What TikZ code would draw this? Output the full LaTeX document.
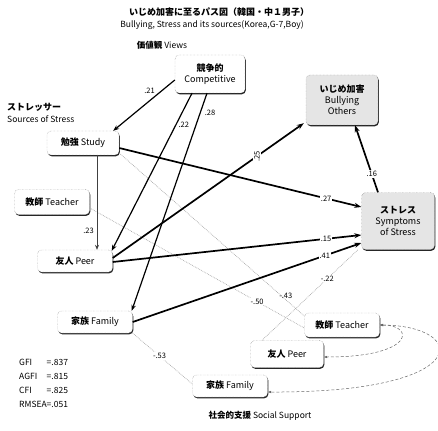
\documentclass[tikz,border=0pt]{standalone}
\usepackage{fontspec}
\setmainfont{Noto Sans CJK JP}
\usetikzlibrary{shadows,arrows.meta}
\begin{document}
\begin{tikzpicture}[x=1pt,y=-1pt,
  box/.style={draw=black!50, densely dotted, rounded corners=4pt, fill=white, align=center,
    inner sep=1pt, font=\fontsize{9}{11}\selectfont, minimum width=74pt, minimum height=23pt,
    drop shadow={shadow xshift=0.8pt, shadow yshift=-1.3pt, fill=black!85, opacity=1}},
  gbox/.style={box, fill=black!10},
  lab/.style={font=\fontsize{7.5}{8}\selectfont, inner sep=1pt},
  txt/.style={font=\fontsize{8.5}{10}\selectfont, inner sep=0pt},
  heavy/.style={line width=1.7pt, -{Stealth[length=7pt,width=5pt]}},
  mid/.style={line width=1.2pt, -{Stealth[length=6pt,width=4.5pt]}},
  slim/.style={line width=0.6pt, draw=black!75, -{Stealth[length=5pt,width=4pt]}},
  corr/.style={draw=black!35, densely dotted, line width=0.7pt},
  curv/.style={draw=black!60, densely dashed, line width=0.5pt, {Latex[length=3.5pt]}-{Latex[length=3.5pt]}}
]
\useasboundingbox (0,0) rectangle (438,430);

% titles and labels
\node[txt, font=\fontsize{9}{10}\bfseries] (t1) at (219,12) {いじめ加害に至るパス図（韓国・中１男子）};
\node[txt] (t2) at (212,25) {Bullying, Stress and its sources(Korea,G-7,Boy)};
\node[txt] (views) at (162,45) {\textbf{価値観} Views};
\node[txt, anchor=west, font=\fontsize{9}{10}\bfseries] (src1) at (7,107) {ストレッサー};
\node[txt, anchor=west] (src2) at (7,119) {Sources of Stress};
\node[txt, anchor=north west, font=\fontsize{8.5}{14}\selectfont] (fit) at (19,355)
  {\begin{tabular}{@{}l@{}l@{}}GFI\ \ &=.837\\AGFI\ &=.815\\CFI\ \ &=.825\\RMSEA&=.051\end{tabular}};
\node[txt] (ss) at (260,416) {\textbf{社会的支援} Social Support};

% boxes
\node[box, minimum width=70pt, minimum height=38pt] (comp) at (210,74) {\textbf{競争的}\\Competitive};
\node[gbox, minimum width=72pt, minimum height=50pt] (bully) at (342,100) {\textbf{いじめ加害}\\Bullying\\Others};
\node[box, minimum width=72pt, minimum height=24pt] (study) at (83,143) {\textbf{勉強} Study};
\node[box, minimum width=75pt, minimum height=25pt] (teacherL) at (52,202) {\textbf{教師} Teacher};
\node[box, minimum width=75pt, minimum height=22pt] (peerL) at (75,261) {\textbf{友人} Peer};
\node[box, minimum width=75pt, minimum height=22pt] (familyL) at (95,322) {\textbf{家族} Family};
\node[gbox, minimum width=73pt, minimum height=57pt] (stress) at (398,221) {\textbf{ストレス}\\Symptoms\\of Stress};
\node[box, minimum width=75pt, minimum height=24pt] (teacherR) at (342,325) {\textbf{教師} Teacher};
\node[box, minimum width=73pt, minimum height=27pt] (peerR) at (287,354) {\textbf{友人} Peer};
\node[box, minimum width=75pt, minimum height=22pt] (familyR) at (230,386) {\textbf{家族} Family};

% support paths (light dotted)
\draw[corr] ([yshift=-10pt]study.east) -- node[lab, pos=0.9, above]{-.43} ([yshift=9pt]teacherR.west);
\draw[corr] ([yshift=-6pt]teacherL.east) -- node[lab, pos=0.78, fill=white]{-.50} ([yshift=-3pt]teacherR.west);
\draw[corr] (familyL.south east) -- node[lab, pos=0.45, fill=white]{-.53} ([yshift=2pt]familyR.west);
\draw[corr] ([xshift=-25pt]peerR.north) -- node[lab, pos=0.68, fill=white]{-.22} ([xshift=-40pt]stress.south);

% paths from views
\draw[mid] ([yshift=-6pt]comp.west) -- node[lab, pos=0.3, above left=0pt]{.21} ([xshift=-6pt]study.north east);
\draw[mid] ([xshift=-18pt]comp.south) -- node[lab, pos=0.2, right=1pt]{.22} ([xshift=-1pt,yshift=-1pt]peerL.north east);
\draw[mid] ([xshift=-3pt]comp.south) -- node[lab, pos=0.09, right=3pt]{.28} ([xshift=-1pt]familyL.north east);
\draw[slim] ([xshift=14pt]study.south) -- node[lab, pos=0.8, left=2pt]{.23} ([xshift=22pt]peerL.north);

% paths to stress / bullying
\draw[heavy] ([yshift=-5pt]study.east) -- node[lab, fill=white, pos=0.855]{.27} ([yshift=14pt]stress.west);
\draw[heavy] ([yshift=-1pt]peerL.east) -- node[lab, fill=white, pos=0.858]{.15} ([yshift=-14pt]stress.west);
\draw[heavy] (familyL.east) -- node[lab, fill=white, pos=0.84]{.41} ([yshift=-22pt]stress.west);
\draw[heavy] ([yshift=3pt]peerL.east) -- node[lab, fill=white, pos=0.755, rotate=90]{.25} ([xshift=-2pt,yshift=2pt]bully.south west);
\draw[heavy] ([xshift=-20pt]stress.north) -- node[lab, fill=white, pos=0.27]{.16} ([xshift=13pt]bully.south);

% covariances among support
\draw[curv] (teacherR.east) .. controls (415,325) and (415,357) .. ([yshift=-3pt]peerR.east);
\draw[curv] (teacherR.east) .. controls (470,326) and (474,393) .. ([yshift=-6pt]familyR.east);
\end{tikzpicture}
\end{document}
